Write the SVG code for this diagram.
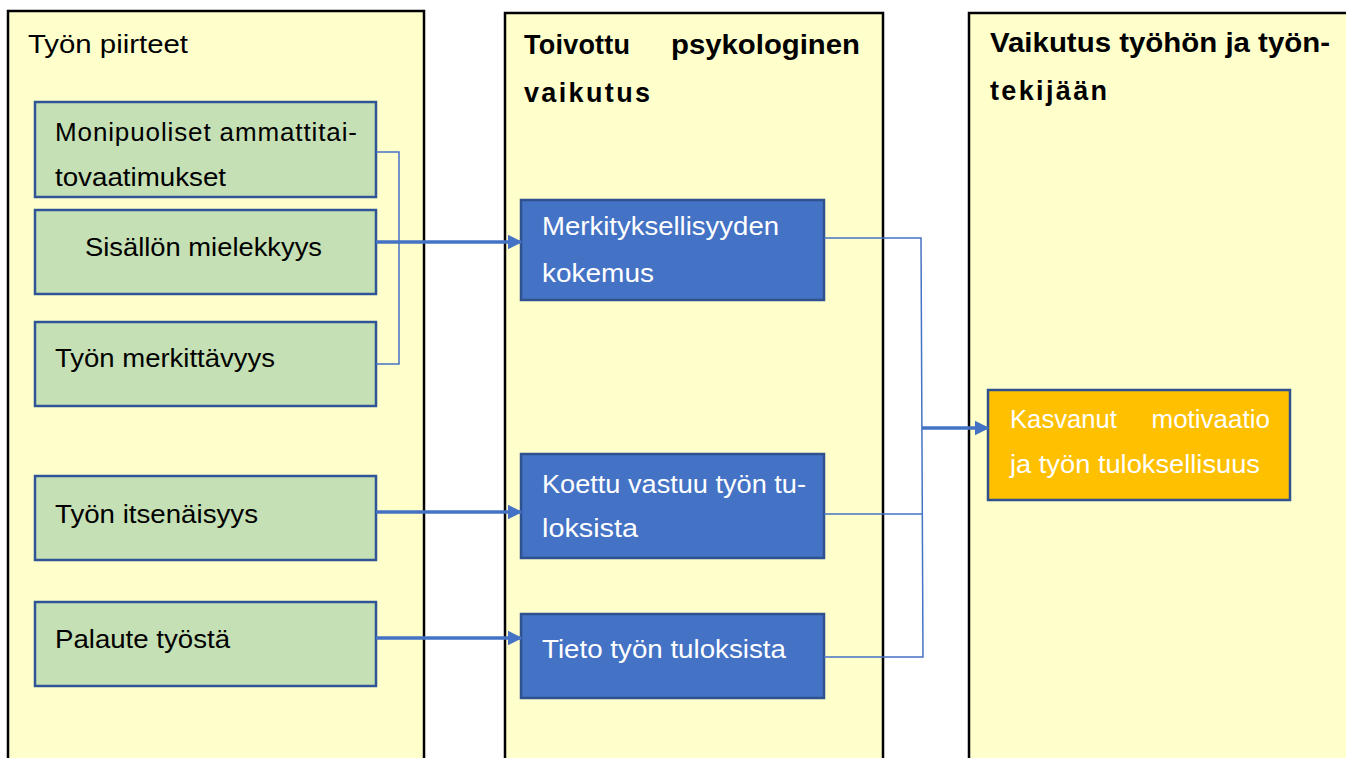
<svg xmlns="http://www.w3.org/2000/svg" width="1346" height="758" viewBox="0 0 1346 758">
  <defs>
    <marker id="arrow" viewBox="0 0 10 10" refX="9" refY="5" markerWidth="4.2" markerHeight="4.2" orient="auto" markerUnits="strokeWidth">
      <path d="M0,0 L10,5 L0,10 z" fill="#4472C4"/>
    </marker>
    <style>
      .col { fill: #FFFFCC; stroke: #000; stroke-width: 2.5; }
      .green { fill: #C5E0B4; stroke: #2F5597; stroke-width: 2.5; }
      .blue { fill: #4472C4; stroke: #2F528F; stroke-width: 2.5; }
      .orange { fill: #FFC000; stroke: #2F528F; stroke-width: 2.5; }
      .t { font-family: "Liberation Sans", Arial, sans-serif; font-size: 26px; fill: #000; }
      .w { font-family: "Liberation Sans", Arial, sans-serif; font-size: 26px; fill: #fff; }
      .h { font-family: "Liberation Sans", Arial, sans-serif; font-size: 27px; font-weight: bold; fill: #000; }
      .thin { fill: none; stroke: #4472C4; stroke-width: 1.5; }
      .thick { fill: none; stroke: #4472C4; stroke-width: 3.5; marker-end: url(#arrow); }
    </style>
  </defs>
  <rect width="1346" height="758" fill="#fff"/>

  <!-- Columns -->
  <g id="col-piirteet">
    <rect class="col" x="8" y="11" width="416" height="760"/>
    <text class="t" x="28" y="53" font-size="28" textLength="160" lengthAdjust="spacingAndGlyphs">Työn piirteet</text>
  </g>
  <g id="col-vaikutus">
    <rect class="col" x="505" y="13" width="378" height="760"/>
    <text class="h" x="524" y="54" textLength="106" lengthAdjust="spacing">Toivottu</text>
    <text class="h" x="671" y="54" textLength="189" lengthAdjust="spacingAndGlyphs">psykologinen</text>
    <text class="h" x="524" y="102" textLength="126" lengthAdjust="spacing">vaikutus</text>
  </g>
  <g id="col-tulos">
    <rect class="col" x="969" y="13" width="390" height="760"/>
    <text class="h" x="990" y="52" textLength="340" lengthAdjust="spacingAndGlyphs">Vaikutus työhön ja työn-</text>
    <text class="h" x="990" y="100" textLength="117" lengthAdjust="spacing">tekijään</text>
  </g>

  <!-- Job characteristics -->
  <g id="n-monipuoliset">
    <rect class="green" x="35" y="102" width="341" height="95"/>
    <text class="t" x="55" y="141" textLength="302" lengthAdjust="spacing">Monipuoliset ammattitai-</text>
    <text class="t" x="55" y="186" textLength="171" lengthAdjust="spacingAndGlyphs">tovaatimukset</text>
  </g>
  <g id="n-sisallon">
    <rect class="green" x="35" y="210" width="341" height="84"/>
    <text class="t" x="85" y="256" textLength="237" lengthAdjust="spacingAndGlyphs">Sisällön mielekkyys</text>
  </g>
  <g id="n-merkittavyys">
    <rect class="green" x="35" y="322" width="341" height="84"/>
    <text class="t" x="55" y="367" textLength="220" lengthAdjust="spacingAndGlyphs">Työn merkittävyys</text>
  </g>
  <g id="n-itsenaisyys">
    <rect class="green" x="35" y="476" width="341" height="84"/>
    <text class="t" x="55" y="523" textLength="203" lengthAdjust="spacingAndGlyphs">Työn itsenäisyys</text>
  </g>
  <g id="n-palaute">
    <rect class="green" x="35" y="602" width="341" height="84"/>
    <text class="t" x="55" y="648" textLength="175" lengthAdjust="spacingAndGlyphs">Palaute työstä</text>
  </g>

  <!-- Psychological states -->
  <g id="n-merkityksellisyys">
    <rect class="blue" x="521" y="200" width="303" height="100"/>
    <text class="w" x="542" y="235" textLength="237" lengthAdjust="spacingAndGlyphs">Merkityksellisyyden</text>
    <text class="w" x="542" y="282" textLength="112" lengthAdjust="spacingAndGlyphs">kokemus</text>
  </g>
  <g id="n-vastuu">
    <rect class="blue" x="521" y="454" width="303" height="104"/>
    <text class="w" x="542" y="493" textLength="264" lengthAdjust="spacingAndGlyphs">Koettu vastuu työn tu-</text>
    <text class="w" x="542" y="537" textLength="96" lengthAdjust="spacingAndGlyphs">loksista</text>
  </g>
  <g id="n-tieto">
    <rect class="blue" x="521" y="614" width="303" height="84"/>
    <text class="w" x="542" y="658" textLength="244" lengthAdjust="spacingAndGlyphs">Tieto työn tuloksista</text>
  </g>

  <!-- Outcome -->
  <g id="n-motivaatio">
    <rect class="orange" x="988" y="390" width="302" height="110"/>
    <text class="w" x="1010" y="428" textLength="107" lengthAdjust="spacingAndGlyphs">Kasvanut</text>
    <text class="w" x="1270" y="428" text-anchor="end">motivaatio</text>
    <text class="w" x="1010" y="473" textLength="250" lengthAdjust="spacingAndGlyphs">ja työn tuloksellisuus</text>
  </g>

  <!-- Connectors -->
  <g id="connectors">
    <polyline class="thin" points="376,152 399,152 399,364 376,364"/>
    <line class="thick" x1="376" y1="242" x2="521" y2="242"/>
    <line class="thick" x1="376" y1="512" x2="521" y2="512"/>
    <line class="thick" x1="376" y1="638" x2="521" y2="638"/>
    <polyline class="thin" points="824,238 921,238 923,657 824,657"/>
    <line class="thin" x1="824" y1="514" x2="922" y2="514"/>
    <line class="thick" x1="922" y1="428" x2="988" y2="428"/>
  </g>
</svg>
